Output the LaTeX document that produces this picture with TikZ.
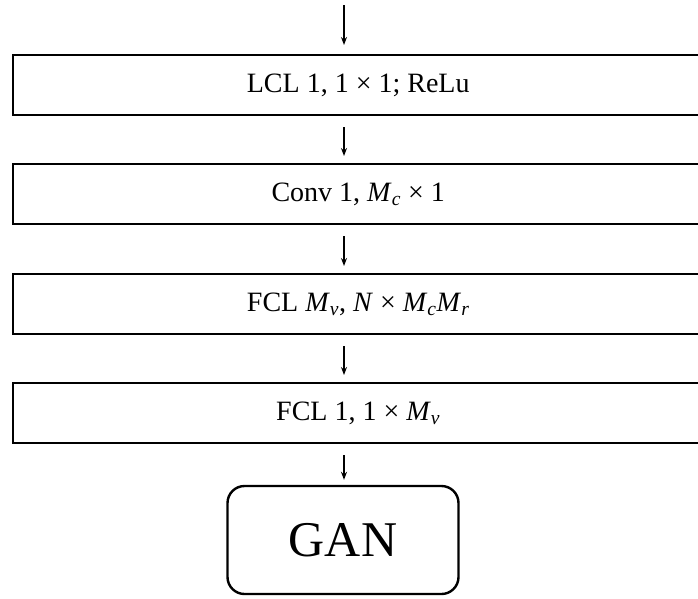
\documentclass[tikz,border=0pt]{standalone}
\usepackage{fontspec}
\setmainfont{Liberation Serif}
\usetikzlibrary{arrows.meta}
\newcommand{\Msub}[1]{\textit{M}\textsubscript{\textit{#1}}}
\begin{document}
\begin{tikzpicture}[x=1pt,y=-1pt,
  layerbox/.style={draw, line width=2.4pt, minimum width=690pt, minimum height=60pt,
    anchor=north west, inner sep=0pt, font=\fontsize{28}{32}\selectfont},
  flow/.style={-{Stealth[length=8pt,width=6pt]}, line width=1.3pt},
  ganbox/.style={draw, line width=2.4pt, rounded corners=17pt, minimum width=231pt,
    minimum height=108pt, inner sep=0pt, font=\fontsize{50}{56}\selectfont}]
\useasboundingbox (0,0) rectangle (698,598);
\coordinate (ax) at (344,0);
\coordinate (in) at (344,5);
\node[layerbox] (l1) at (12,54) {LCL 1, 1 × 1; ReLu};
\node[layerbox] (l2) at (12,163) {Conv 1, \Msub{c} × 1};
\node[layerbox] (l3) at (12,273) {FCL \Msub{v}, \textit{N} × \Msub{c}\Msub{r}};
\node[layerbox] (l4) at (12,382) {FCL 1, 1 × \Msub{v}};
\node[ganbox] (gan) at (343,540) {GAN};
\draw[flow] (in) -- ([yshift=9pt]l1.north -| ax);
\draw[flow] ([yshift=-11pt]l1.south -| ax) -- ([yshift=7pt]l2.north -| ax);
\draw[flow] ([yshift=-11pt]l2.south -| ax) -- ([yshift=7pt]l3.north -| ax);
\draw[flow] ([yshift=-11pt]l3.south -| ax) -- ([yshift=7pt]l4.north -| ax);
\draw[flow] ([yshift=-11pt]l4.south -| ax) -- ([yshift=5pt]gan.north -| ax);
\end{tikzpicture}
\end{document}
